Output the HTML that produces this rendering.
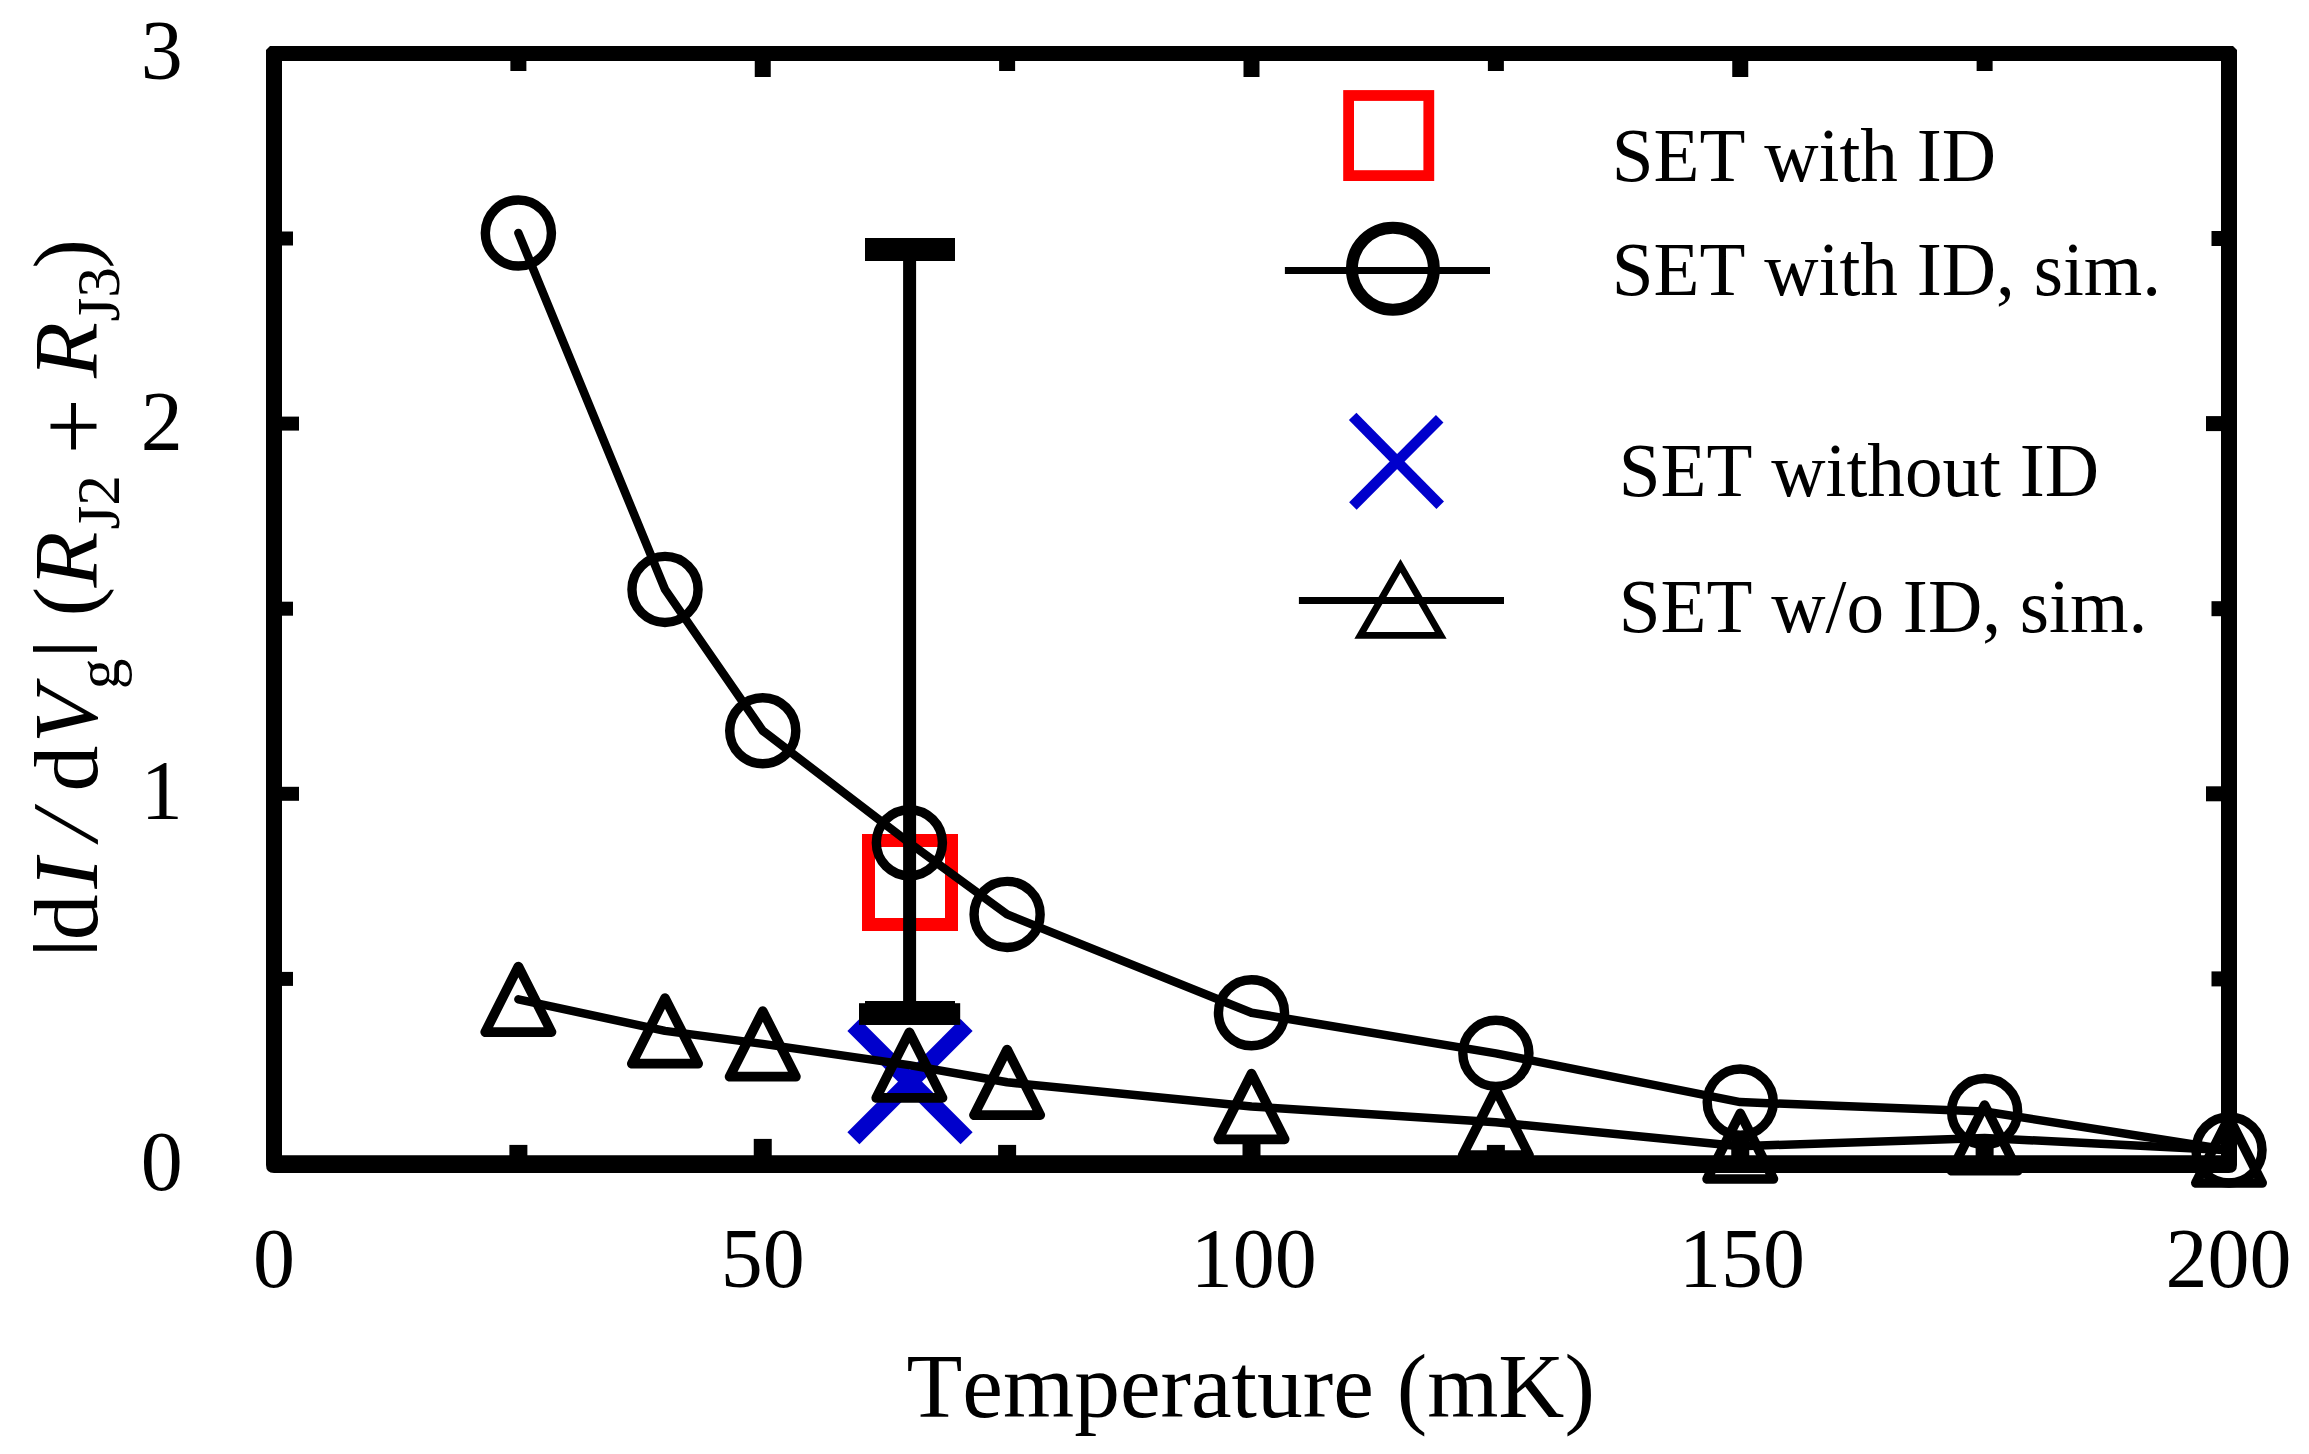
<!DOCTYPE html>
<html lang="en"><head><meta charset="utf-8"><title>SET dI/dVg vs Temperature</title>
<style>html,body{margin:0;padding:0;background:#fff}svg{display:block}text{font-family:"Liberation Serif",serif;fill:#000;font-kerning:none;font-variant-ligatures:none}.it{font-style:italic}.tk{font-size:84px}.lg{font-size:75.2px}.ti{font-size:91.5px}.sb{font-size:61.3px}.bar{font-family:"Liberation Sans",sans-serif;font-size:67.6px}</style></head><body>
<svg width="2309" height="1454" viewBox="0 0 2309 1454">
<rect x="0" y="0" width="2309" height="1454" fill="#fff"/>
<g stroke="#0000cc" stroke-width="17" fill="none" stroke-linecap="butt">
<line x1="853.4" y1="1025.1" x2="966.6" y2="1138.3"/><line x1="966.6" y1="1025.1" x2="853.4" y2="1138.3"/></g>
<rect x="868.5" y="840.5" width="83" height="84" fill="none" stroke="#ff0000" stroke-width="13"/>
<g fill="#000">
<rect x="903.1" y="240" width="13" height="780"/>
<rect x="865" y="238" width="90" height="23"/>
<rect x="865" y="1001" width="90" height="23.9"/>
<rect x="859" y="1003.2" width="101.2" height="21.7"/>
</g>
<polyline points="518.38,233.00 665.00,589.40 762.75,730.75 909.38,842.80 1007.12,914.40 1251.50,1012.75 1495.88,1053.35 1740.25,1102.10 1984.62,1111.50 2229.00,1150.00" fill="none" stroke="#000" stroke-width="8.5" stroke-linecap="round" stroke-linejoin="round"/>
<g fill="none" stroke="#000" stroke-width="9.4">
<circle cx="518.38" cy="233.00" r="33.05"/>
<circle cx="665.00" cy="589.40" r="33.05"/>
<circle cx="762.75" cy="730.75" r="33.05"/>
<circle cx="909.38" cy="842.80" r="33.05"/>
<circle cx="1007.12" cy="914.40" r="33.05"/>
<circle cx="1251.50" cy="1012.75" r="33.05"/>
<circle cx="1495.88" cy="1053.35" r="33.05"/>
<circle cx="1740.25" cy="1102.10" r="33.05"/>
<circle cx="1984.62" cy="1111.50" r="33.05"/>
<circle cx="2229.00" cy="1150.00" r="33.05"/>
</g>
<polyline points="518.38,999.30 665.00,1030.90 762.75,1043.90 909.38,1065.10 1007.12,1082.30 1251.50,1106.50 1495.88,1122.30 1740.25,1146.20 1984.62,1137.90 2229.00,1150.20" fill="none" stroke="#000" stroke-width="8.5" stroke-linecap="round" stroke-linejoin="round"/>
<g fill="none" stroke="#000" stroke-width="9.7" stroke-linejoin="round">
<polygon points="518.38,966.50 485.23,1032.10 551.52,1032.10"/>
<polygon points="665.00,998.10 631.85,1063.70 698.15,1063.70"/>
<polygon points="762.75,1011.10 729.60,1076.70 795.90,1076.70"/>
<polygon points="909.38,1032.30 876.23,1097.90 942.52,1097.90"/>
<polygon points="1007.12,1049.50 973.98,1115.10 1040.28,1115.10"/>
<polygon points="1251.50,1073.70 1218.35,1139.30 1284.65,1139.30"/>
<polygon points="1495.88,1089.50 1462.72,1155.10 1529.03,1155.10"/>
<polygon points="1740.25,1113.40 1707.10,1179.00 1773.40,1179.00"/>
<polygon points="1984.62,1105.10 1951.47,1170.70 2017.78,1170.70"/>
<polygon points="2229.00,1117.40 2195.85,1183.00 2262.15,1183.00"/>
</g>
<g fill="#000">
<path fill-rule="evenodd" d="M270 46 H2233 L2237 50 V1165 Q2237 1173 2229 1173 H274 Q266 1173 266 1165 V50 Z M282 61 H2221 V1155.2 H282 Z"/>
<rect x="510.38" y="61" width="16" height="10"/>
<rect x="509.38" y="1144.90" width="18" height="11.30"/>
<rect x="754.75" y="61" width="16" height="16"/>
<rect x="753.75" y="1138.90" width="18" height="17.30"/>
<rect x="999.12" y="61" width="16" height="10"/>
<rect x="998.12" y="1144.90" width="18" height="11.30"/>
<rect x="1243.50" y="61" width="16" height="16"/>
<rect x="1242.50" y="1138.90" width="18" height="17.30"/>
<rect x="1487.88" y="61" width="16" height="10"/>
<rect x="1486.88" y="1144.90" width="18" height="11.30"/>
<rect x="1732.25" y="61" width="16" height="16"/>
<rect x="1731.25" y="1138.90" width="18" height="17.30"/>
<rect x="1976.62" y="61" width="16" height="10"/>
<rect x="1975.62" y="1144.90" width="18" height="11.30"/>
<rect x="281" y="971.90" width="12" height="14"/>
<rect x="2211.50" y="971.40" width="9.50" height="15"/>
<rect x="281" y="786.80" width="18" height="14"/>
<rect x="2206.00" y="786.30" width="15.00" height="15"/>
<rect x="281" y="601.70" width="12" height="14"/>
<rect x="2211.50" y="601.20" width="9.50" height="15"/>
<rect x="281" y="416.60" width="18" height="14"/>
<rect x="2206.00" y="416.10" width="15.00" height="15"/>
<rect x="281" y="231.50" width="12" height="14"/>
<rect x="2211.50" y="231.00" width="9.50" height="15"/>
</g>
<g class="tk">
<text x="182.7" y="1189.6" text-anchor="end">0</text>
<text x="182.7" y="819.3" text-anchor="end">1</text>
<text x="182.7" y="449.5" text-anchor="end">2</text>
<text x="182.7" y="79.2" text-anchor="end">3</text>
<text x="274.0" y="1287.4" text-anchor="middle">0</text>
<text x="762.8" y="1287.4" text-anchor="middle">50</text>
<text x="1253.7" y="1287.4" text-anchor="middle">100</text>
<text x="1742.0" y="1287.4" text-anchor="middle">150</text>
<text x="2228.5" y="1287.4" text-anchor="middle">200</text>
</g>
<text class="ti" x="1250.7" y="1417" text-anchor="middle">Temperature (mK)</text>
<g transform="rotate(-90)">
<text class="bar" x="-956.8" y="82.8">|</text>
<text class="ti" x="-940.3" y="97.0">d</text>
<text class="ti it" x="-888.7" y="97.0">I</text>
<text class="ti it" style="font-size:94px" transform="translate(-840.4,97.0) skewX(-3.2)" x="0" y="0">/</text>
<text class="ti" x="-791.4" y="97.0">d</text>
<text class="ti it" x="-742.9" y="97.0">V</text>
<text class="sb" x="-689.2" y="118.8">g</text>
<text class="bar" x="-657.8" y="82.8">|</text>
<text class="ti" x="-616.3" y="95.0" style="font-size:88px">(</text>
<text class="ti it" x="-587.5" y="97.0">R</text>
<text class="sb" x="-529.6" y="118.8">J2</text>
<text class="ti" x="-454.6" y="106.7" style="font-size:100px">+</text>
<text class="ti it" x="-378.0" y="97.0">R</text>
<text class="sb" x="-321.5" y="118.8">J3</text>
<text class="ti" x="-268.5" y="95.0" style="font-size:88px">)</text>
</g>
<rect x="1348.6" y="95.5" width="80.2" height="80.1" fill="none" stroke="#ff0000" stroke-width="10.8"/>
<rect x="1284.9" y="267" width="205.1" height="7" fill="#000"/>
<circle cx="1392.9" cy="268.85" r="41" fill="none" stroke="#000" stroke-width="12"/>
<g stroke="#0000cc" stroke-width="10.6" fill="none"><line x1="1352.65" y1="416.4" x2="1440.2" y2="505.3"/><line x1="1439.7" y1="418.7" x2="1352.9" y2="506.05"/></g>
<rect x="1298.9" y="597" width="205.1" height="7" fill="#000"/>
<polygon points="1400.5,565.75 1360.25,635.45 1440.75,635.45" fill="none" stroke="#000" stroke-width="6.8" stroke-linejoin="miter"/>
<g class="lg">
<text x="1611.8" y="180.9">SET with ID</text>
<text x="1611.8" y="295.2">SET with ID, sim.</text>
<text x="1618.8" y="496.1">SET without ID</text>
<text x="1618.8" y="632.1">SET w/o ID, sim.</text>
</g>
</svg></body></html>
